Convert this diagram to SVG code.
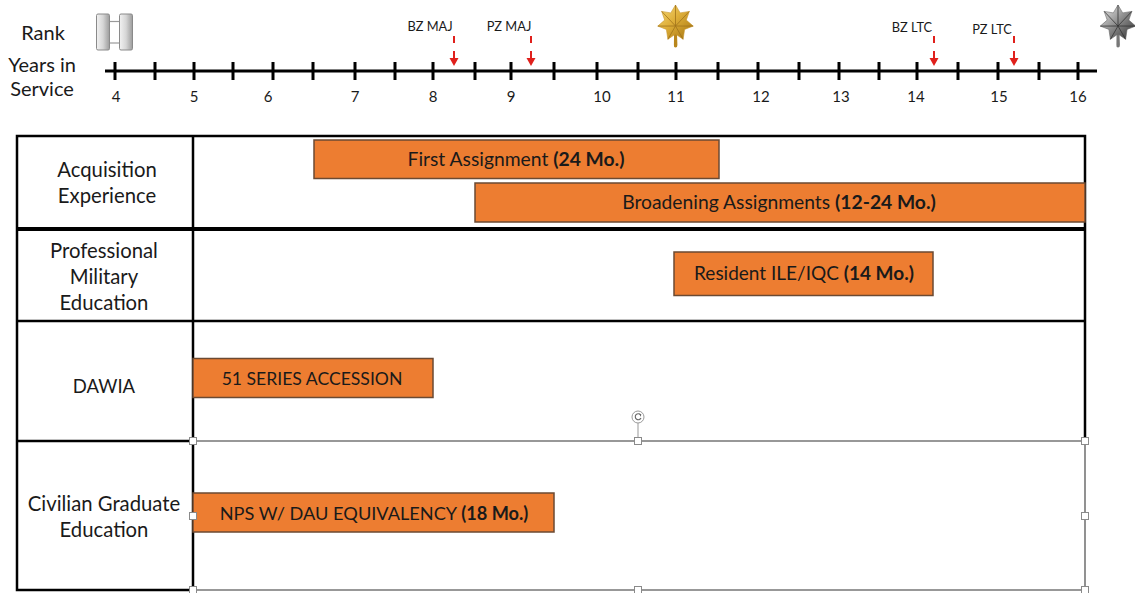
<svg xmlns="http://www.w3.org/2000/svg" width="1135" height="593" viewBox="0 0 1135 593">
<style>
  text { font-family: Lato, "Open Sans", "Liberation Sans", sans-serif; fill: #1a1a1a; }
  .hdr { font-size: 20px; text-anchor: middle; }
  .num { font-size: 15px; text-anchor: middle; }
  .zone { font-size: 12.8px; text-anchor: middle; }
  .row { font-size: 20.3px; text-anchor: middle; }
  .bar rect { fill: #ED7D31; stroke: #6b4a33; stroke-width: 1.5; }
  .bar text { font-size: 19.3px; text-anchor: middle; }
  .b { font-weight: bold; }
  .tick { stroke: #000; stroke-width: 3; }
  .arrow { stroke: #e0201c; stroke-width: 2; fill: none; }
  .tb { stroke: #000; stroke-width: 2.5; fill: none; }
  .sel { stroke: #777; stroke-width: 1.6; fill: none; }
  .hdl { fill: #fff; stroke: #8a8a8a; stroke-width: 1; }
</style>
<defs>
  <marker id="ah" markerUnits="userSpaceOnUse" markerWidth="10" markerHeight="10" refX="1" refY="4.5" orient="auto">
    <path d="M0,0 L8,4.5 L0,9 z" fill="#e0201c"/>
  </marker>
  <linearGradient id="gold" x1="0" y1="0" x2="1" y2="1">
    <stop offset="0" stop-color="#f7dc7a"/>
    <stop offset="0.45" stop-color="#deae38"/>
    <stop offset="1" stop-color="#a2720f"/>
  </linearGradient>
  <linearGradient id="silver" x1="0" y1="0" x2="1" y2="1">
    <stop offset="0" stop-color="#f2f2f2"/>
    <stop offset="0.5" stop-color="#8a8a8a"/>
    <stop offset="1" stop-color="#2e2e2e"/>
  </linearGradient>
  <linearGradient id="barg" x1="0" y1="0" x2="1" y2="0">
    <stop offset="0" stop-color="#f2f2f2"/>
    <stop offset="0.5" stop-color="#d6d6d6"/>
    <stop offset="1" stop-color="#9c9c9c"/>
  </linearGradient>
  <path id="leaf" d="M0,-18 L4.7,-10.1 L13.8,-11.6 L10.8,-2.9 L17.7,3.1 L9.1,6.4 L7.6,16.3 L0,11 L-7.6,16.3 L-9.1,6.4 L-17.7,3.1 L-10.8,-2.9 L-13.8,-11.6 L-4.7,-10.1 Z"/>
  <path id="veins" d="M0,3 L0,-18 M0,3 L13.8,-11.6 M0,3 L17.7,3.1 M0,3 L7.6,16.3 M0,3 L-7.6,16.3 M0,3 L-17.7,3.1 M0,3 L-13.8,-11.6" fill="none" stroke-width="0.8"/>
</defs>

<rect x="0" y="0" width="1135" height="593" fill="#fff"/>

<!-- left header -->
<g id="axis-labels">
  <text class="hdr" x="43" y="40">Rank</text>
  <text class="hdr" x="42" y="72">Years in</text>
  <text class="hdr" x="42" y="96">Service</text>
</g>

<!-- rank insignia -->
<g id="insignia-cpt">
  <line x1="109" y1="21.5" x2="120" y2="21.5" stroke="#999" stroke-width="1.2"/>
  <line x1="109" y1="43" x2="120" y2="43" stroke="#999" stroke-width="1.2"/>
  <rect x="96.5" y="14" width="13" height="36" rx="1.5" fill="url(#barg)" stroke="#8a8a8a" stroke-width="1"/>
  <rect x="119.5" y="14" width="13" height="36" rx="1.5" fill="url(#barg)" stroke="#8a8a8a" stroke-width="1"/>
</g>
<g id="insignia-maj" transform="translate(675.5,23)">
  <path d="M-1.4,8 L1.4,8 L1.9,22 Q2,24.5 0,24.5 Q-1.9,24.5 -1.6,22 Z" fill="#b8861c"/>
  <use href="#leaf" fill="url(#gold)" stroke="#c8962a" stroke-width="0.6"/>
  <use href="#veins" stroke="#a0721a"/>
</g>
<g id="insignia-ltc" transform="translate(1118,23)">
  <path d="M-1.4,8 L1.4,8 L1.9,22 Q2,24.5 0,24.5 Q-1.9,24.5 -1.6,22 Z" fill="#777"/>
  <use href="#leaf" fill="url(#silver)" stroke="#666" stroke-width="0.6"/>
  <use href="#veins" stroke="#333"/>
</g>

<!-- timeline axis -->
<g id="axis">
  <line x1="105" y1="71" x2="1097" y2="71" stroke="#000" stroke-width="3"/>
  <path class="tick" d="M115,62V80 M155,62V80 M194,62V80 M233,62V80 M273,62V80 M313,62V80 M355,62V80 M395,62V80 M433,62V80 M475,62V80 M511,62V80 M554,62V80 M597,62V80 M638,62V80 M676,62V80 M718,62V80 M758,62V80 M799,62V80 M839,62V80 M879,62V80 M917,62V80 M958,62V80 M998,62V80 M1039,62V80 M1078,62V80"/>
  <text class="num" x="116" y="102">4</text>
  <text class="num" x="194" y="102">5</text>
  <text class="num" x="268" y="102">6</text>
  <text class="num" x="355" y="102">7</text>
  <text class="num" x="433" y="102">8</text>
  <text class="num" x="511" y="102">9</text>
  <text class="num" x="602" y="102">10</text>
  <text class="num" x="676" y="102">11</text>
  <text class="num" x="761" y="102">12</text>
  <text class="num" x="841" y="102">13</text>
  <text class="num" x="916" y="102">14</text>
  <text class="num" x="999" y="102">15</text>
  <text class="num" x="1078" y="102">16</text>
</g>

<!-- promotion zone labels -->
<g id="zones">
  <text class="zone" x="430" y="31">BZ MAJ</text>
  <text class="zone" x="509" y="31">PZ MAJ</text>
  <text class="zone" x="912" y="32">BZ LTC</text>
  <text class="zone" x="992" y="34">PZ LTC</text>
</g>

<g id="connectors">
  <path class="arrow" d="M454,36V43 M454,51V59" marker-end="url(#ah)"/>
  <path class="arrow" d="M531,36V43 M531,51V59" marker-end="url(#ah)"/>
  <path class="arrow" d="M934,36V43 M934,51V59" marker-end="url(#ah)"/>
  <path class="arrow" d="M1014,36V43 M1014,51V59" marker-end="url(#ah)"/>
</g>

<!-- table grid -->
<g id="table">
  <path class="tb" d="M193,441 V136 H17 V590 H193 V441 M17,441 H193 M17,321 H1085 M1085,441 V136 H193"/>
  <line x1="17" y1="229" x2="1085" y2="229" stroke="#000" stroke-width="3.8"/>
  <path class="sel" d="M193,441 H1085 V590 H193"/>
</g>

<g id="row-labels">
  <text class="row" x="107" y="177">Acquisition</text>
  <text class="row" x="107" y="203">Experience</text>
  <text class="row" x="104" y="258">Professional</text>
  <text class="row" x="104" y="284">Military</text>
  <text class="row" x="104" y="310">Education</text>
  <text class="row" x="104" y="393" style="font-size:18.5px">DAWIA</text>
  <text class="row" x="104" y="511">Civilian Graduate</text>
  <text class="row" x="104" y="537">Education</text>
</g>

<!-- bars -->
<g id="bar-first" class="bar">
  <rect x="314" y="140" width="405" height="38.5"/>
  <text x="516" y="166">First Assignment <tspan class="b">(24 Mo.)</tspan></text>
</g>
<g id="bar-broadening" class="bar">
  <rect x="475" y="183" width="610" height="39"/>
  <text x="779" y="209">Broadening Assignments <tspan class="b">(12-24 Mo.)</tspan></text>
</g>
<g id="bar-ile" class="bar">
  <rect x="674" y="252" width="259" height="43.5"/>
  <text x="804" y="280" style="font-size:19px">Resident ILE/IQC <tspan class="b">(14 Mo.)</tspan></text>
</g>
<g id="bar-dawia" class="bar">
  <rect x="193" y="358.5" width="240" height="39"/>
  <text x="312" y="384.5" style="font-size:17.6px">51 SERIES ACCESSION</text>
</g>
<g id="bar-nps" class="bar">
  <rect x="193" y="493" width="361" height="39"/>
  <text x="374" y="520" style="font-size:18.2px">NPS W/ DAU EQUIVALENCY <tspan class="b">(18 Mo.)</tspan></text>
</g>

<!-- selection handles -->
<g id="selection">
  <line x1="638" y1="423" x2="638" y2="438" stroke="#999" stroke-width="1"/>
  <circle cx="638" cy="417" r="6" fill="#fff" stroke="#999" stroke-width="1"/>
  <path d="M640.6,414.8 A3,3 0 1 0 641,418" fill="none" stroke="#666" stroke-width="1.1"/>
  <path d="M639.2,413.6 L641.4,414.6 L640.6,416.8 Z" fill="#666"/>
  <rect class="hdl" x="189.5" y="437.5" width="7" height="7"/>
  <rect class="hdl" x="634.5" y="437.5" width="7" height="7"/>
  <rect class="hdl" x="1081.5" y="437.5" width="7" height="7"/>
  <rect class="hdl" x="189.5" y="512.5" width="7" height="7"/>
  <rect class="hdl" x="1081.5" y="512.5" width="7" height="7"/>
  <rect class="hdl" x="189.5" y="586.5" width="7" height="7"/>
  <rect class="hdl" x="634.5" y="586.5" width="7" height="7"/>
  <rect class="hdl" x="1081.5" y="586.5" width="7" height="7"/>
</g>
</svg>
